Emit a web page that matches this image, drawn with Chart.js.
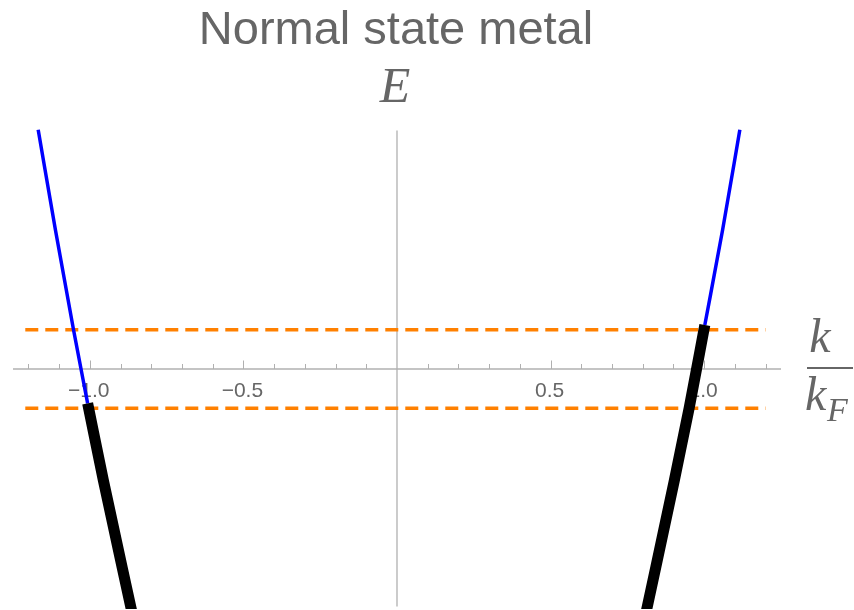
<!DOCTYPE html>
<html>
<head>
<meta charset="utf-8">
<script src="https://cdn.jsdelivr.net/npm/chart.js@4"></script>
<style>
  html, body { margin: 0; padding: 0; background: #fff; }
  #wrap { width: 854px; height: 610px; position: relative; }
</style>
</head>
<body>
<div id="wrap"><canvas id="c" width="854" height="610"></canvas></div>
<script>
// ---- data ----
const titleText = "Normal state metal";
const yLabel = "E";
const xLabelNum = "k";
const xLabelDen = "k";
const xLabelSub = "F";

// band branch outside |k|<=1 (blue) and inside (black), points [k, E]
const leftOuterK = [-1.168, -1.112, -1.053, -1.007];
const leftOuterE = [0.299, 0.174, 0.049, -0.043];
const leftInnerK = [-1.007, -0.956, -0.864];
const leftInnerE = [-0.043, -0.139, -0.302];
const rightInnerK = [0.812, 0.903, 0.951, 1.002];
const rightInnerE = [-0.302, -0.139, -0.049, 0.055];
const rightOuterK = [1.002, 1.060, 1.116];
const rightOuterE = [0.055, 0.174, 0.299];

// dashed energy window lines
const windowK = [-1.21, 1.20];
const windowUpper = 0.049;
const windowLower = -0.049;

// axes
const xMin = -1.25, xMax = 1.25;
const yMin = -0.3, yMax = 0.3;
const vAxisRange = [-0.297, 0.298];
const minorTicks = [-1.2,-1.1,-0.9,-0.8,-0.7,-0.6,-0.4,-0.3,-0.2,-0.1,0.1,0.2,0.3,0.4,0.6,0.7,0.8,0.9,1.1,1.2];
const majorTicks = [-1.0,-0.5,0.5,1.0];
const majorTickLabels = ["\u22121.0","\u22120.5","0.5","1.0"];

function pts(ks, es) { return ks.map((k, i) => ({x: k, y: es[i]})); }

const BLUE = "#0000ff", BLACK = "#000000", ORANGE = "#ff8000";
const AXIS = "#b0b0b0", TEXT = "#666666";

const axesPlugin = {
  id: "mmaAxes",
  beforeDatasetsDraw(chart) {
    const ctx = chart.ctx, xs = chart.scales.x, ys = chart.scales.y;
    const y0 = ys.getPixelForValue(0);
    const x0 = xs.getPixelForValue(0);
    ctx.save();
    ctx.strokeStyle = AXIS;
    ctx.lineWidth = 1.3;
    ctx.beginPath();
    ctx.moveTo(xs.getPixelForValue(xMin), y0);
    ctx.lineTo(xs.getPixelForValue(xMax), y0);
    ctx.stroke();
    ctx.beginPath();
    ctx.moveTo(x0, ys.getPixelForValue(vAxisRange[1]));
    ctx.lineTo(x0, ys.getPixelForValue(vAxisRange[0]));
    ctx.stroke();
    ctx.lineWidth = 1;
    minorTicks.forEach(v => {
      const px = Math.round(xs.getPixelForValue(v)) + 0.5;
      ctx.beginPath(); ctx.moveTo(px, y0); ctx.lineTo(px, y0 - 5); ctx.stroke();
    });
    majorTicks.forEach(v => {
      const px = Math.round(xs.getPixelForValue(v)) + 0.5;
      ctx.beginPath(); ctx.moveTo(px, y0); ctx.lineTo(px, y0 - 8.5); ctx.stroke();
    });
    ctx.fillStyle = TEXT;
    ctx.font = '21px "Liberation Sans", Arial, sans-serif';
    ctx.textAlign = "center";
    ctx.textBaseline = "alphabetic";
    majorTicks.forEach((v, i) => {
      ctx.fillText(majorTickLabels[i], xs.getPixelForValue(v) - 1, y0 + 28);
    });
    ctx.restore();
  },
  afterDraw(chart) {
    const ctx = chart.ctx;
    ctx.save();
    ctx.fillStyle = TEXT;
    ctx.textAlign = "center";
    ctx.textBaseline = "alphabetic";
    ctx.font = '47px "Liberation Sans", Arial, sans-serif';
    ctx.fillText(titleText, 396, 44);
    ctx.font = 'italic 50px "Liberation Serif", "Times New Roman", serif';
    ctx.fillText(yLabel, 395, 102);
    ctx.font = 'italic 48px "Liberation Serif", "Times New Roman", serif';
    ctx.fillText(xLabelNum, 820, 352);
    ctx.fillRect(807, 367, 46, 2);
    ctx.textAlign = "left";
    ctx.fillText(xLabelDen, 805, 410);
    ctx.font = 'italic 34px "Liberation Serif", "Times New Roman", serif';
    ctx.fillText(xLabelSub, 827, 421);
    ctx.restore();
  }
};

const lineDs = (data, color, width, extra) => Object.assign({
  data, borderColor: color, backgroundColor: color, borderWidth: width,
  pointRadius: 0, fill: false, cubicInterpolationMode: "monotone",
  borderCapStyle: "butt", borderJoinStyle: "round"
}, extra || {});

new Chart(document.getElementById("c"), {
  type: "line",
  data: {
    datasets: [
      lineDs(pts(leftInnerK, leftInnerE), BLACK, 11),
      lineDs(pts(rightInnerK, rightInnerE), BLACK, 11),
      lineDs(pts(leftOuterK, leftOuterE), BLUE, 3.5),
      lineDs(pts(rightOuterK, rightOuterE), BLUE, 3.5),
      lineDs(pts(windowK, [windowUpper, windowUpper]), ORANGE, 3.5, {borderDash: [13, 7], cubicInterpolationMode: "default"}),
      lineDs(pts(windowK, [windowLower, windowLower]), ORANGE, 3.5, {borderDash: [13, 7], cubicInterpolationMode: "default"})
    ]
  },
  options: {
    responsive: false,
    animation: false,
    events: [],
    layout: { padding: { left: 13, right: 73, top: 129, bottom: 1 } },
    plugins: { legend: { display: false }, title: { display: false }, tooltip: { enabled: false } },
    scales: {
      x: { type: "linear", min: xMin, max: xMax, display: false },
      y: { type: "linear", min: yMin, max: yMax, display: false }
    }
  },
  plugins: [axesPlugin]
});
</script>
</body>
</html>
